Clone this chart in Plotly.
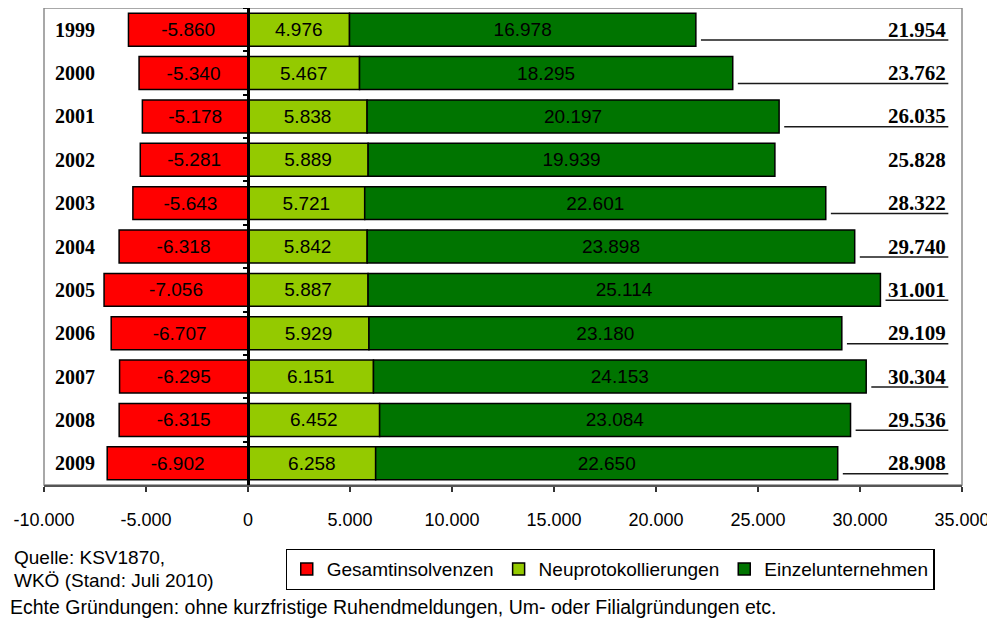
import plotly.graph_objects as go

years = ["1999", "2000", "2001", "2002", "2003", "2004", "2005", "2006", "2007", "2008", "2009"]
gesamtinsolvenzen = [-5860, -5340, -5178, -5281, -5643, -6318, -7056, -6707, -6295, -6315, -6902]
neuprotokollierungen = [4976, 5467, 5838, 5889, 5721, 5842, 5887, 5929, 6151, 6452, 6258]
einzelunternehmen = [16978, 18295, 20197, 19939, 22601, 23898, 25114, 23180, 24153, 23084, 22650]
totals = [21954, 23762, 26035, 25828, 28322, 29740, 31001, 29109, 30304, 29536, 28908]
underlined = [True, True, True, False, True, True, True, True, True, True, True]
x_tickvals = [-10000, -5000, 0, 5000, 10000, 15000, 20000, 25000, 30000, 35000]


def de(v):
    return f"{v:,}".replace(",", ".")


x_ticktext = [de(v) for v in x_tickvals]

SANS = "Liberation Sans, Arial, sans-serif"
SERIF = "Liberation Serif, Times New Roman, serif"

fig = go.Figure()
series = [
    ("Gesamtinsolvenzen", gesamtinsolvenzen, "#FF0000"),
    ("Neuprotokollierungen", neuprotokollierungen, "#94CA00"),
    ("Einzelunternehmen", einzelunternehmen, "#007400"),
]
for name, vals, col in series:
    fig.add_trace(go.Bar(
        y=years, x=vals, name=name, orientation="h",
        marker=dict(color=col, line=dict(color="#000000", width=1.5)),
        text=[de(v) for v in vals], textposition="inside",
        insidetextanchor="middle", constraintext="none",
        textfont=dict(family=SANS, size=19, color="#000000"),
        hoverinfo="skip",
    ))

annotations = []
shapes = []
for i, (yr, tot, ul) in enumerate(zip(years, totals, underlined)):
    annotations.append(dict(
        x=-9560, y=i, xref="x", yref="y", text=f"<b>{yr}</b>",
        showarrow=False, xanchor="left", yanchor="middle",
        font=dict(family=SERIF, size=20, color="#000000"),
    ))
    annotations.append(dict(
        x=34330, y=i, xref="x", yref="y", text=f"<b>{de(tot)}</b>",
        showarrow=False, xanchor="right", yanchor="middle",
        font=dict(family=SERIF, size=21, color="#000000"),
    ))
    if ul:
        shapes.append(dict(
            type="line", xref="x", yref="y",
            x0=tot + 250, x1=34330, y0=i + 0.24, y1=i + 0.24,
            line=dict(color="#1a1a1a", width=1.5),
        ))

shapes.append(dict(
    type="rect", xref="paper", yref="paper", x0=0, x1=1, y0=0, y1=1,
    line=dict(color="#8c8c8c", width=1.5), layer="below",
))

annotations += [
    dict(x=-0.0349, y=-0.151, xref="paper", yref="paper", text="Quelle: KSV1870,",
         showarrow=False, xanchor="left", yanchor="middle",
         font=dict(family=SANS, size=19, color="#000000")),
    dict(x=-0.0349, y=-0.201, xref="paper", yref="paper", text="WKÖ (Stand: Juli 2010)",
         showarrow=False, xanchor="left", yanchor="middle",
         font=dict(family=SANS, size=19, color="#000000")),
    dict(x=-0.0392, y=-0.256, xref="paper", yref="paper",
         text="Echte Gründungen: ohne kurzfristige Ruhendmeldungen, Um- oder Filialgründungen etc.",
         showarrow=False, xanchor="left", yanchor="middle",
         font=dict(family=SANS, size=19.5, color="#000000")),
]

# page body has an 8px margin: figure sized/offset so the plot area lands where the reference has it
fig.update_layout(
    width=987, height=610,
    margin=dict(l=36, r=33, t=0, b=133, pad=0, autoexpand=False),
    paper_bgcolor="#FFFFFF", plot_bgcolor="#FFFFFF",
    barmode="relative", bargap=0.24,
    showlegend=True,
    legend=dict(
        orientation="h", x=0.6166, xanchor="center", y=-0.134, yanchor="top",
        bordercolor="#000000", borderwidth=1.2,
        font=dict(family=SANS, size=19, color="#000000"),
        traceorder="normal", itemwidth=30,
    ),
    font=dict(family=SANS, color="#000000"),
    xaxis=dict(
        range=[-10000, 35000], tickvals=x_tickvals, ticktext=x_ticktext,
        showgrid=False, zeroline=False, showline=True, linecolor="#555555", linewidth=1.5,
        ticks="outside", ticklen=5, tickwidth=1.5, tickcolor="#333333",
        tickfont=dict(family=SANS, size=18, color="#000000"),
        ticklabelstandoff=13, fixedrange=True, automargin=False,
    ),
    yaxis=dict(
        type="category", categoryorder="array", categoryarray=years,
        range=[len(years) - 0.5, -0.5], autorange=False,
        anchor="free", position=10000 / 45000,
        showgrid=False, zeroline=False, showline=True, linecolor="#000000", linewidth=2.5,
        ticks="outside", tickson="boundaries", ticklen=4, tickwidth=2, tickcolor="#000000",
        showticklabels=False, fixedrange=True, automargin=False,
    ),
    shapes=shapes, annotations=annotations,
)

fig.write_html("out.html")
